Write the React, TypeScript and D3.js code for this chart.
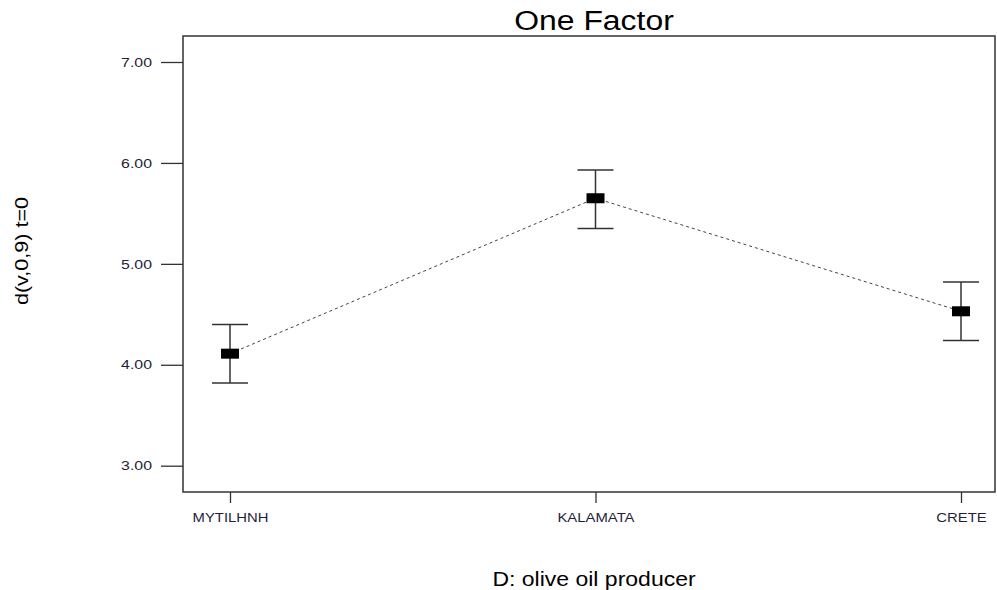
import * as d3 from "d3";
import { useRef, useEffect } from "react";

const producers = ["MYTILHNH", "KALAMATA", "CRETE"];
const means = [4.11, 5.65, 4.53];
const lowers = [3.82, 5.35, 4.24];
const uppers = [4.40, 5.93, 4.82];
const yTicks = [3, 4, 5, 6, 7];

const W = 997;
const H = 590;

const App = () => {
  const ref = useRef<SVGSVGElement>(null);

  useEffect(() => {
    const svg = d3.select(ref.current);
    svg.selectAll("*").remove();

    const frame = { left: 183, right: 995, top: 36, bottom: 492 };
    const font = "Arial, 'Liberation Sans', sans-serif";

    const y = d3.scaleLinear().domain([3, 7]).range([465.7, 62]);
    const x = d3.scalePoint().domain(producers).range([230, 961]);

    // plot frame
    svg.append("rect")
      .attr("x", frame.left)
      .attr("y", frame.top)
      .attr("width", frame.right - frame.left)
      .attr("height", frame.bottom - frame.top)
      .attr("fill", "none")
      .attr("stroke", "#333")
      .attr("stroke-width", 1.5);

    // y axis
    const yAxis = svg.append("g")
      .attr("transform", `translate(${frame.left},0)`)
      .call(d3.axisLeft(y).tickValues(yTicks).tickSize(22).tickPadding(9).tickFormat(d3.format(".2f")));
    yAxis.select(".domain").remove();
    yAxis.selectAll("line").attr("stroke", "#333").attr("stroke-width", 1.3);
    yAxis.selectAll("text")
      .attr("x", 0)
      .attr("transform", "translate(-31,0) scale(1.22,1)")
      .attr("font-family", font)
      .attr("font-size", 13)
      .attr("fill", "#1f1f3a");

    // x axis
    const xAxis = svg.append("g")
      .attr("transform", `translate(0,${frame.bottom})`)
      .call(d3.axisBottom(x).tickSize(11).tickPadding(10));
    xAxis.select(".domain").remove();
    xAxis.selectAll("line").attr("stroke", "#333").attr("stroke-width", 1.3);
    xAxis.selectAll("text")
      .attr("transform", "scale(1.24,1)")
      .attr("font-family", font)
      .attr("font-size", 12)
      .attr("fill", "#1f1f3a");

    const rows = producers.map((p, i) => ({ p, mean: means[i], lo: lowers[i], hi: uppers[i] }));

    // dashed connecting line
    const line = d3.line<typeof rows[0]>()
      .x(d => x(d.p)!)
      .y(d => y(d.mean));
    svg.append("path")
      .datum(rows)
      .attr("fill", "none")
      .attr("stroke", "#444")
      .attr("stroke-width", 1)
      .attr("stroke-dasharray", "3,3")
      .attr("d", line);

    // error bars
    const g = svg.append("g")
      .selectAll("g")
      .data(rows)
      .join("g")
      .attr("transform", d => `translate(${x(d.p)},0)`);

    g.append("line")
      .attr("y1", d => y(d.lo))
      .attr("y2", d => y(d.hi))
      .attr("stroke", "#333")
      .attr("stroke-width", 1.5);

    g.append("line")
      .attr("x1", -18).attr("x2", 18)
      .attr("y1", d => y(d.hi)).attr("y2", d => y(d.hi))
      .attr("stroke", "#333")
      .attr("stroke-width", 1.5);

    g.append("line")
      .attr("x1", -18).attr("x2", 18)
      .attr("y1", d => y(d.lo)).attr("y2", d => y(d.lo))
      .attr("stroke", "#333")
      .attr("stroke-width", 1.5);

    g.append("rect")
      .attr("x", -9)
      .attr("y", d => y(d.mean) - 5)
      .attr("width", 18)
      .attr("height", 10)
      .attr("fill", "#000");

    // titles
    svg.append("text")
      .attr("transform", "translate(594,30) scale(1.14,1)")
      .attr("text-anchor", "middle")
      .attr("font-family", font)
      .attr("font-size", 28)
      .attr("fill", "#000")
      .text("One Factor");

    svg.append("text")
      .attr("transform", "translate(594,586) scale(1.15,1)")
      .attr("text-anchor", "middle")
      .attr("font-family", font)
      .attr("font-size", 20)
      .attr("fill", "#000")
      .text("D: olive oil producer");

    svg.append("text")
      .attr("transform", "translate(28,251) rotate(-90) scale(1.2,1)")
      .attr("text-anchor", "middle")
      .attr("font-family", font)
      .attr("font-size", 18)
      .attr("fill", "#000")
      .text("d(v,0,9) t=0");
  }, []);

  return (
    <div style={{ position: "absolute", left: 0, top: 0 }}>
      <svg ref={ref} width={W} height={H} style={{ display: "block", background: "#fff" }} />
    </div>
  );
};

export default App;
